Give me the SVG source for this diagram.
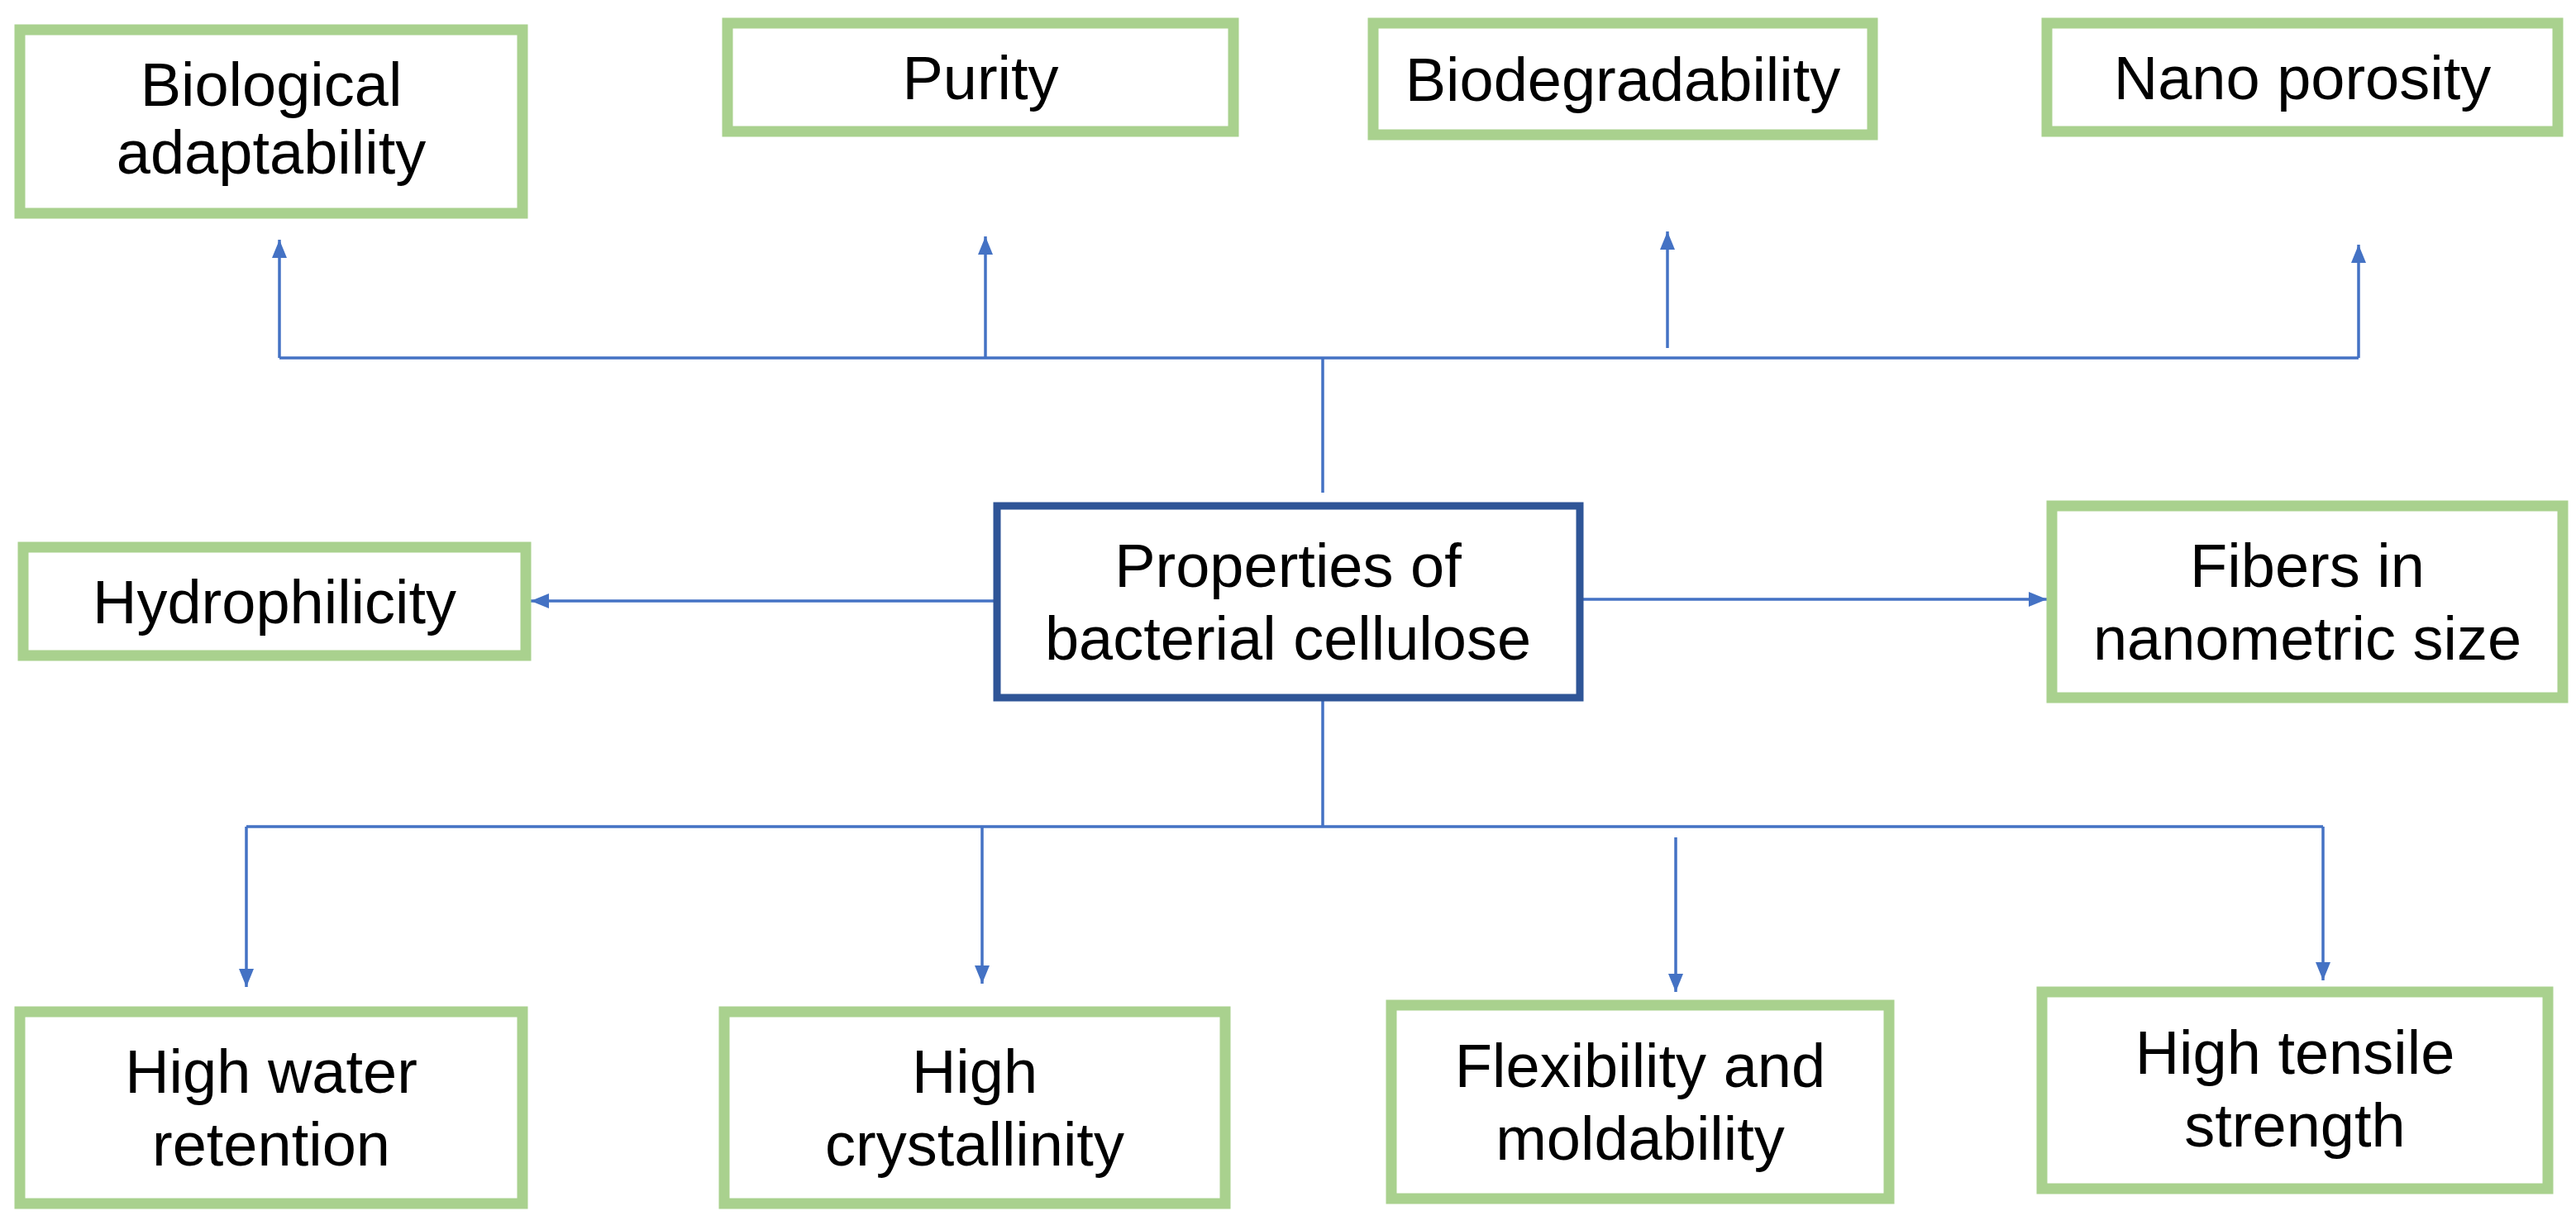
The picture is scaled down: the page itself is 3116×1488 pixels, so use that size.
<svg xmlns="http://www.w3.org/2000/svg" width="3116" height="1488" viewBox="0 0 3116 1488">
<style>
.n{fill:#fff;stroke:#A9D18E;stroke-width:13}
.c{fill:#fff;stroke:#2F5597;stroke-width:9}
text{font-family:"Liberation Sans",Arial,sans-serif;font-size:74px;fill:#000;text-anchor:middle}
.l{stroke:#4472C4;stroke-width:3.5;fill:none}
</style>
<defs>
<marker id="b" markerWidth="22" markerHeight="18" refX="22" refY="9" orient="auto" markerUnits="userSpaceOnUse"><path d="M0,0 L22,9 L0,18 z" fill="#4472C4"/></marker></defs>
<g id="connectors">
<path class="l" d="M1600 596 V433 M338 433 H2853"/>
<path class="l" marker-end="url(#b)" d="M338 433 V290"/>
<path class="l" marker-end="url(#b)" d="M1192 433 V286"/>
<path class="l" marker-end="url(#b)" d="M2017 421 V280"/>
<path class="l" marker-end="url(#b)" d="M2853 433 V296"/>
<path class="l" marker-end="url(#b)" d="M1204 727 H642"/>
<path class="l" marker-end="url(#b)" d="M1911 725 H2476"/>
<path class="l" d="M1600 848 V1000 M298 1000 H2810"/>
<path class="l" marker-end="url(#b)" d="M298 1000 V1194"/>
<path class="l" marker-end="url(#b)" d="M1188 1000 V1190"/>
<path class="l" marker-end="url(#b)" d="M2027 1013 V1200"/>
<path class="l" marker-end="url(#b)" d="M2810 1000 V1186"/>
</g>
<g id="n1"><rect class="n" x="24" y="36" width="608" height="222"/><text x="328" y="128">Biological</text><text x="328" y="210">adaptability</text></g>
<g id="n2"><rect class="n" x="880" y="28" width="612" height="131"/><text x="1186" y="120">Purity</text></g>
<g id="n3"><rect class="n" x="1661" y="28" width="604" height="135"/><text x="1963" y="122">Biodegradability</text></g>
<g id="n4"><rect class="n" x="2476" y="28" width="618" height="131"/><text x="2785" y="120">Nano porosity</text></g>
<g id="n5"><rect class="n" x="28" y="662" width="608" height="131"/><text x="332" y="754">Hydrophilicity</text></g>
<g id="center"><rect class="c" x="1206" y="612" width="705" height="232"/><text x="1558" y="710">Properties of</text><text x="1558" y="798">bacterial cellulose</text></g>
<g id="n6"><rect class="n" x="2482" y="612" width="618" height="232"/><text x="2791" y="710">Fibers in</text><text x="2791" y="798">nanometric size</text></g>
<g id="n7"><rect class="n" x="24" y="1224" width="608" height="232"/><text x="328" y="1322">High water</text><text x="328" y="1410">retention</text></g>
<g id="n8"><rect class="n" x="876" y="1224" width="606" height="232"/><text x="1179" y="1322">High</text><text x="1179" y="1410">crystallinity</text></g>
<g id="n9"><rect class="n" x="1683" y="1216" width="602" height="234"/><text x="1984" y="1315">Flexibility and</text><text x="1984" y="1403">moldability</text></g>
<g id="n10"><rect class="n" x="2470" y="1200" width="612" height="238"/><text x="2776" y="1299">High tensile</text><text x="2776" y="1387">strength</text></g>
</svg>
